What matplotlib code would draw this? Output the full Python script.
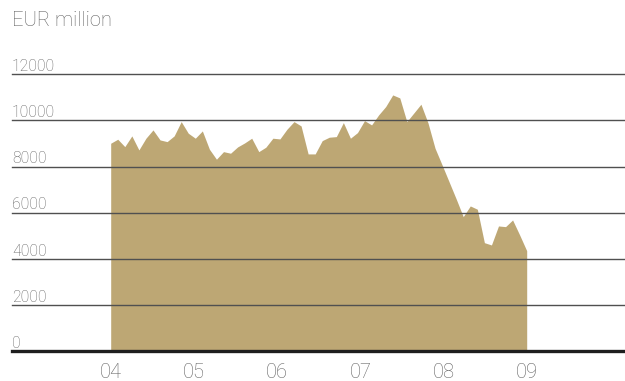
import numpy as np
import matplotlib
matplotlib.use("Agg")
import matplotlib.pyplot as plt
from matplotlib import font_manager

# Monthly values, Jan 2004 .. Dec 2008 (EUR million)
values = [9010, 9184, 8863, 9328, 8720, 9228, 9588, 9154, 9080, 9328,
          9948, 9445, 9228, 9544, 8751, 8317, 8646, 8577, 8850, 9024,
          9228, 8646, 8837, 9228, 9197, 9618, 9948, 9761, 8547, 8547,
          9124, 9271, 9297, 9905, 9228, 9471, 9991, 9805, 10239, 10599,
          11106, 10976, 9948, 10325, 10703, 9892, 8794, 8069, 7332, 6594,
          5826, 6291, 6148, 4698, 4599, 5423, 5393, 5683, 5033, 4351]
years = [2004, 2005, 2006, 2007, 2008, 2009]
year_labels = ["04", "05", "06", "07", "08", "09"]
y_ticks = [0, 2000, 4000, 6000, 8000, 10000, 12000]
y_labels = ["0", "2000", "4000", "6000", "8000", "10000", "12000"]
unit_label = "EUR million"

x = np.linspace(years[0], years[-1], len(values))

available = {f.name for f in font_manager.fontManager.ttflist}
fam = "Roboto" if "Roboto" in available else "Liberation Sans"
plt.rcParams["font.family"] = [fam, "DejaVu Sans"]

W, H = 625, 381
fig = plt.figure(figsize=(W / 100, H / 100), dpi=100)
left_px, bottom_px, top_px = 12, 351, 74.3
ax = fig.add_axes([left_px / W, (H - bottom_px) / H, 1 - left_px / W,
                   (bottom_px - top_px) / H])

px_per_year = (526.7 - 110.7) / 5
ax.set_xlim(2004 - (110.7 - left_px) / px_per_year,
            2009 + (W - 526.7) / px_per_year)
ax.set_ylim(0, 12000)

ax.fill_between(x, 0, values, color="#bda774", linewidth=0, zorder=1)

for yt in y_ticks[1:]:
    ax.axhline(yt, color="#505050", lw=1.0, zorder=2, clip_on=False)
ax.axhline(0, color="#1e1e1e", lw=2.4, zorder=3, clip_on=False)

txt_color = "#626262"
for yt, lab in zip(y_ticks, y_labels):
    ax.annotate(lab, xy=(0, yt), xycoords=("axes fraction", "data"),
                xytext=(0, 3.2), textcoords="offset pixels",
                ha="left", va="baseline", fontsize=11.3,
                color=txt_color, fontweight="light")

ax.set_xticks(years)
ax.set_xticklabels(year_labels)
ax.tick_params(axis="x", length=0, pad=9, labelsize=14.5, labelcolor=txt_color)
for t in ax.get_xticklabels():
    t.set_fontweight("light")
ax.set_yticks([])
for s in ax.spines.values():
    s.set_visible(False)

fig.text(12 / W, 1 - 25.5 / H, unit_label, ha="left", va="baseline",
         fontsize=14.5, color=txt_color, fontweight="light")

fig.savefig("out.png", dpi=100)
